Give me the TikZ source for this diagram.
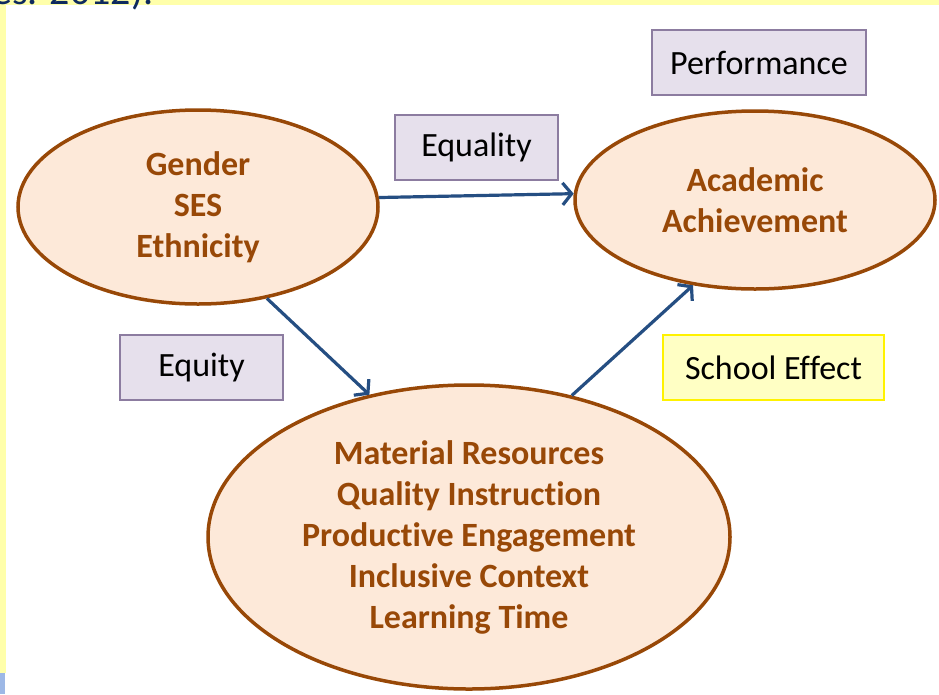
\documentclass[tikz,border=0pt]{standalone}
\usepackage{fontspec}
\setmainfont{Carlito}[Ligatures={NoCommon}]
\usetikzlibrary{shapes.geometric,arrows.meta}
\definecolor{peach}{HTML}{FDE9D9}
\definecolor{brownline}{HTML}{984807}
\definecolor{arrowblue}{HTML}{254E82}
\definecolor{lavender}{HTML}{E6E0EC}
\definecolor{lavborder}{HTML}{8C7CA0}
\definecolor{paleyellow}{HTML}{FFFFC4}
\definecolor{bandyellow}{HTML}{FFFFAA}
\definecolor{bandblue}{HTML}{9DB8E6}
\definecolor{titleblue}{HTML}{0E2A5E}
\tikzset{
  oval/.style={ellipse, draw=brownline, line width=3.5pt, fill=peach, inner sep=0pt,
    text=brownline, font=\fontsize{34}{41}\selectfont\bfseries, align=center},
  tag/.style={rectangle, draw=lavborder, line width=1.2pt, fill=lavender, inner sep=0pt,
    font=\fontsize{34}{38}\selectfont, text=black},
  conn/.style={draw=arrowblue, line width=3.2pt, -{Straight Barb[length=9pt,width=22pt,line width=3.2pt]}}
}
\begin{document}
\begin{tikzpicture}[x=1pt,y=-1pt]
\useasboundingbox (0,0) rectangle (939,694);
\fill[white] (0,0) rectangle (939,694);
% frame strips
\fill[bandyellow] (0,0) rectangle (939,5);
\fill[bandyellow] (0,0) rectangle (6,673);
\fill[bandblue] (0,673) rectangle (5,694);
\node[anchor=base west, inner sep=0pt, text=titleblue, font=\fontsize{40}{44}\selectfont] (title) at (-8,4) {es. 2012).};
% ellipses
\node[oval, minimum width=360pt, minimum height=194pt] (L) at (198,207) {Gender\\SES\\Ethnicity};
\node[oval, minimum width=360pt, minimum height=178pt] (R) at (755,200) {Academic\\Achievement};
\node[oval, minimum width=522pt, minimum height=304pt] (B) at (469,537) {Material Resources\\Quality Instruction\\Productive Engagement\\Inclusive Context\\Learning Time};
% labels
\node[tag, minimum width=214pt, minimum height=65pt] (perf) at (759,62.5) {Performance};
\node[tag, minimum width=163pt, minimum height=65pt] (eql) at (476.5,147.5) {Equality};
\node[tag, minimum width=163pt, minimum height=65pt] (eqt) at (201.5,367.5) {Equity};
\node[tag, draw=yellow, fill=paleyellow, minimum width=221pt, minimum height=65pt] (sch) at (773.5,367.5) {School Effect};
% connectors
\draw[conn] (L.3.8) -- (R.178.7);
\draw[conn] (L.-53.3) -- (B.125.5);
\draw[conn] (B.54.6) -- (R.-126);
\end{tikzpicture}
\end{document}
